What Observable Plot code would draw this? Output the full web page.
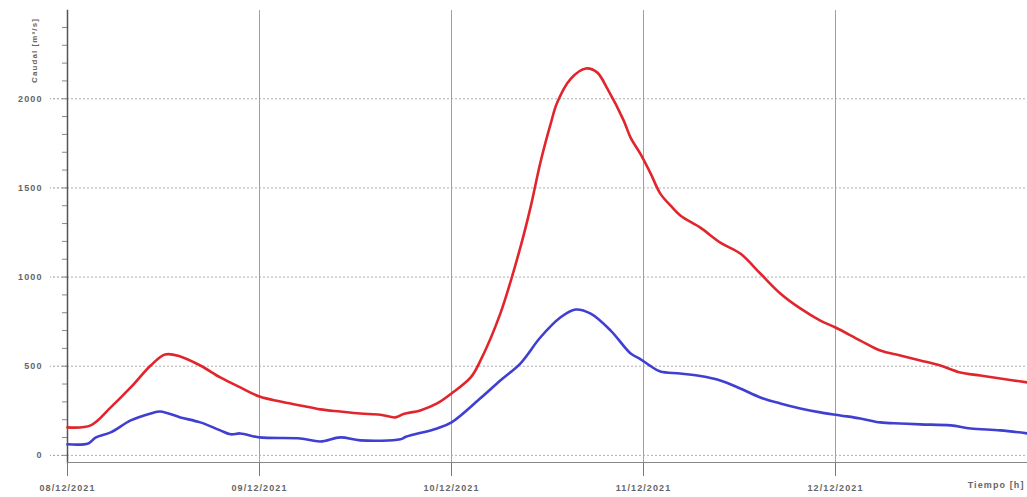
<!DOCTYPE html>
<html>
<head>
<meta charset="utf-8">
<script src="https://cdn.jsdelivr.net/npm/d3@7"></script>
<script src="https://cdn.jsdelivr.net/npm/@observablehq/plot@0.6"></script>
<style>
  html, body { margin: 0; padding: 0; background: #fff; }
  #chart { width: 1027px; height: 497px; overflow: hidden; }
  #chart svg text { letter-spacing: 1.1px; }
</style>
</head>
<body>
<div id="chart"></div>
<script>
// Hours since 08/12/2021 00:00 and flow values (m³/s)
const redHours = [0, 2.9, 5.4, 7.9, 10.4, 12.2, 14.1, 16.6, 19.1, 21.6, 24, 26.6, 29.1, 31.6, 34.1, 36.6, 39.1, 41.0, 42.0, 44.1, 46.2, 48.0, 50.4, 51.6, 54.1, 56.6, 57.9, 59.1, 60.4, 61.2, 62.9, 64.8, 66.2, 67.5, 69.5, 70.4, 71.6, 72.9, 74.1, 75.4, 76.6, 79.1, 81.6, 84.1, 86.6, 89.1, 91.6, 94.1, 96, 99.1, 101.6, 104.1, 106.6, 109.1, 111.6, 114.1, 116.6, 120];
const redValues = [157, 168, 269, 381, 504, 566, 555, 504, 437, 381, 330, 302, 280, 258, 246, 235, 228, 213, 232, 252, 291, 347, 437, 530, 795, 1165, 1395, 1640, 1860, 1978, 2112, 2170, 2148, 2055, 1880, 1781, 1692, 1580, 1468, 1400, 1345, 1277, 1193, 1132, 1020, 908, 824, 756, 717, 644, 588, 560, 532, 504, 465, 448, 431, 409];

const blueHours = [0, 2.6, 3.5, 5.4, 7.9, 10.4, 11.6, 14.1, 16.6, 19.1, 20.4, 21.6, 24, 29.1, 31.6, 34.1, 36.6, 41.6, 42.3, 46.2, 48.0, 51.6, 54.1, 56.6, 59.1, 61.6, 63.5, 65.4, 67.9, 70.4, 71.6, 72.9, 74.1, 76.6, 79.1, 81.6, 84.1, 86.6, 89.1, 91.6, 94.1, 96.6, 99.1, 101.6, 104.1, 106.6, 110.4, 112.9, 116.6, 120];
const blueValues = [62, 67, 100, 129, 196, 235, 246, 213, 185, 140, 118, 123, 101, 95, 78, 101, 84, 90, 104, 151, 185, 320, 420, 515, 661, 773, 818, 795, 700, 571, 540, 500, 470, 459, 445, 420, 375, 325, 291, 263, 241, 224, 207, 185, 179, 174, 168, 151, 140, 123];

const dayTicks = ["2021-12-08", "2021-12-09", "2021-12-10", "2021-12-11", "2021-12-12"];
const majorY = [0, 500, 1000, 1500, 2000];
const yLabel = "Caudal [m³/s]";
const xLabel = "Tiempo [h]";

const t0 = new Date(2021, 11, 8, 0, 0);
const toDate = h => new Date(t0.getTime() + h * 3600 * 1000);
const red = redHours.map((h, i) => ({t: toDate(h), v: redValues[i]}));
const blue = blueHours.map((h, i) => ({t: toDate(h), v: blueValues[i]}));
const days = dayTicks.map(s => { const [y, m, d] = s.split("-").map(Number); return new Date(y, m - 1, d); });
const tEnd = new Date(2021, 11, 13, 0, 0);
const minorY = d3.range(0, 2500, 100);
const fmt = d3.timeFormat("%d/%m/%Y");

const chart = Plot.plot({
  width: 1027,
  height: 497,
  marginLeft: 67,
  marginRight: 0,
  marginTop: 10,
  marginBottom: 35,
  style: {fontFamily: "'Liberation Sans', Arial, sans-serif", fontSize: "9px", color: "#666", background: "#fff"},
  x: {type: "time", domain: [t0, tEnd]},
  y: {domain: [-40, 2495]},
  marks: [
    Plot.gridY(majorY, {stroke: "#9a9a9a", strokeOpacity: 0.8, strokeDasharray: "2,2"}),
    Plot.ruleX(days, {stroke: "#a0a0a0", strokeWidth: 1}),
    Plot.axisX(days, {tickSize: 14, tickPadding: 8, tickFormat: fmt, stroke: "#777", fontWeight: "bold", label: null}),
    Plot.axisY(minorY, {tickSize: 5, tickFormat: null, text: null, stroke: "#888", label: null}),
    Plot.axisY(majorY, {tickSize: 17, tickPadding: 8, tickFormat: d => String(d), stroke: "#999", strokeDasharray: "2,2", fontWeight: "bold", label: null}),
    Plot.frame({anchor: "left", stroke: "#555", strokeWidth: 1.5}),
    Plot.frame({anchor: "bottom", stroke: "#888", strokeWidth: 1}),
    Plot.line(red, {x: "t", y: "v", stroke: "#e0262c", strokeWidth: 2.6, curve: "catmull-rom"}),
    Plot.line(blue, {x: "t", y: "v", stroke: "#3f3fd2", strokeWidth: 2.6, curve: "catmull-rom"}),
    Plot.text([yLabel], {frameAnchor: "top-left", dx: -33, dy: 40, rotate: -90, textAnchor: "middle", lineAnchor: "middle", fontWeight: "bold", fill: "#666", fontSize: 8}),
    Plot.text([xLabel], {x: () => tEnd, frameAnchor: "bottom", textAnchor: "end", dx: -3, dy: 25, fontWeight: "bold", fill: "#666"})
  ]
});
document.getElementById("chart").appendChild(chart);
</script>
</body>
</html>
